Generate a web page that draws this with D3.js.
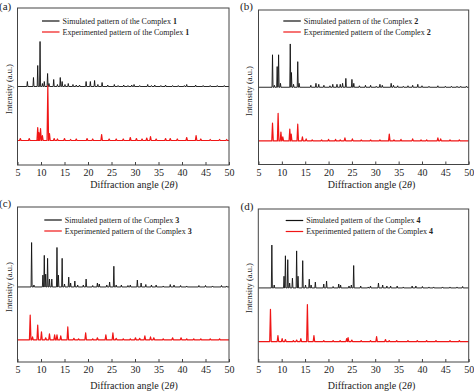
<!DOCTYPE html>
<html><head><meta charset="utf-8">
<script src="https://cdn.jsdelivr.net/npm/d3@7"></script>
<style>
html,body{margin:0;padding:0;background:#fff;}
svg{display:block;font-family:"Liberation Serif","Times New Roman",serif;}
</style></head><body>
<svg id="chart" width="474" height="392"></svg>
<script>
// ---- data: [2θ (deg), intensity (a.u.)] ----
const panelLabels = ["(a)", "(b)", "(c)", "(d)"];
const complexIds = ["1", "2", "3", "4"];
const xTicks = [5, 10, 15, 20, 25, 30, 35, 40, 45, 50];
const simOffset = [78.5, 78.5, 76, 76];
const expOffset = [24.5, 24, 22.5, 21];

const sim1 = [[7.1,5],[8.4,9],[9.3,21],[9.8,45],[10.3,3],[10.7,5],[11.4,13],[11.7,3],[12.7,7],[13.5,2],[14.1,9],[14.5,5],[15.1,2],[15.8,3],[16.8,2],[17.5,1.5],[18.2,1.5],[19.6,5],[20.5,5],[21.4,6],[22.1,2],[23.0,4],[24.2,1.5],[25.6,2],[26.4,1],[27.6,1.5],[28.5,1],[29.3,1.5],[29.8,2],[31,1],[32.7,2],[33.5,1],[34.2,1.5],[35.5,1],[36.5,1.5],[38,1],[39.2,1],[40.5,1],[41,2],[42.9,1.5],[44.5,1],[46,1],[47.5,1],[49,1]];
const exp1 = [[5.6,2],[7.5,2],[9.3,13],[9.55,8],[9.9,12],[10.3,5],[11.45,55],[11.8,7],[12.8,2],[13.5,1.5],[15,2],[16.3,1],[17.5,1.5],[19.8,2],[21,1.5],[22.9,6],[24.5,1.5],[26,1.5],[27.5,1.5],[29,3],[30.3,2],[31.5,1.5],[32.5,2.5],[33.3,4],[34.5,1.5],[36.5,2],[37.5,2],[39,1.5],[41,3],[43,5],[44,1.5],[46,1],[48,1],[49.5,1]];
const sim2 = [[8.0,33],[8.4,2],[9.0,21],[9.3,33],[9.7,4],[11.8,44],[12.05,15],[12.5,3],[13.4,26],[13.7,4],[16.2,2],[17.3,4],[17.9,3],[19,2],[20.3,1.5],[20.9,3],[21.8,3],[22.5,3],[23.0,4],[23.7,9],[25.0,8],[25.4,4],[26.6,1.5],[27.9,2],[29,2],[30.2,1],[31,3],[31.5,2],[33.4,4],[33.9,2],[34.8,1.5],[36,1],[37,1.5],[38,2],[39.1,3],[40,1.5],[41.5,1],[43.4,1.5],[45,1],[46.3,1],[47.5,1],[48.3,1],[49.5,1]];
const exp2 = [[8.0,18],[9.2,28],[9.8,9],[10.2,4],[11.7,12],[12.0,7],[13.4,17],[14.4,4],[15.2,2],[16.5,1],[18.5,1],[20,1.5],[21.5,1.5],[22.5,1],[23.5,3],[25.1,2],[27,1],[29,1],[31,1],[33.0,7],[34,1],[35.5,1.5],[38,2],[39.8,1],[41,1],[43.4,3],[44,2],[46,1],[48,1]];
const sim3 = [[8.0,45],[8.5,2],[10.4,12],[10.7,32],[11.0,13],[11.4,29],[11.8,8],[12.3,8],[13.4,40],[13.7,12],[14.5,29],[15.0,3],[15.9,10],[16.3,4],[17.2,6],[17.8,2],[19.0,2],[19.6,8],[21,1.5],[22,4],[22.4,3],[24,2],[24.6,5],[25.5,21],[26,2],[27.1,2],[28.5,1.5],[29,2],[30.5,7],[31.3,4],[32.3,2.5],[33.5,2],[34.5,2],[36,1],[37.5,2.5],[38.3,2],[39.7,1.5],[41,1],[43.6,1.5],[45,1.5],[46.5,1],[48.4,1.5],[49.5,1]];
const exp3 = [[7.7,25],[8.2,3],[9.3,15],[10.1,8],[11.0,2],[11.8,6],[12.9,5],[13.4,5],[14.2,4],[15.7,13],[17,1.5],[18,1],[19.5,7],[21,1],[22,2],[23.8,5],[25.3,7],[26,1.5],[27.5,1],[29,1],[30.1,2],[31,1.5],[32.1,4],[33.3,3],[34,2],[36,1],[38,2],[39.8,2],[41,1],[42.5,1],[44,1],[46,1],[48,1]];
const sim4 = [[7.9,44],[8.4,3],[10.5,12],[10.8,33],[11.3,29],[11.7,5],[12.3,10],[13.2,38],[13.5,12],[14.5,28],[15.1,3],[15.9,9],[16.3,3],[17.2,6],[19.0,4],[19.6,7],[21,1.5],[22.2,4],[22.6,3],[24.4,2],[24.9,3],[25.4,23],[26.9,2],[28.5,1],[29,2],[30.7,5],[31.6,3],[32.5,2],[33.3,2],[34.7,2],[36,1],[37.9,2],[38.7,2],[40.1,1.5],[41.5,1],[42.5,1],[44.4,1],[46,1],[47.5,1],[48.7,1.5]];
const exp4 = [[7.6,33],[9.2,6],[10.1,3],[10.8,2],[12.5,1],[13.2,1.5],[14.1,3],[15.5,38],[16.9,6],[19,1],[21,1],[22.5,1],[23.9,3],[24.2,4],[25,1.5],[27,1],[29,1],[30.3,5],[32.2,2],[33,1],[34.6,1],[37,1],[39,1],[41,1],[43,1],[46,1],[48,1]];

const simSeries = [sim1, sim2, sim3, sim4];
const expSeries = [exp1, exp2, exp3, exp4];

// ---- layout ----
const frames = [
  {x0:17.5, x1:229, top:8, bottom:165, lab:[-1,9.5], legX:42, legY:21, yl:[9,89], xl:[134,188]},
  {x0:258.5, x1:468.7, top:10, bottom:164.5, lab:[240,9.5], legX:283.3, legY:21, yl:[249.5,91], xl:[371.5,188]},
  {x0:17.5, x1:229, top:207, bottom:362, lab:[-1,206.5], legX:44.3, legY:220, yl:[9.5,287], xl:[134,388.5]},
  {x0:258.3, x1:468.7, top:209, bottom:362, lab:[240.5,209.5], legX:285.7, legY:220.5, yl:[249.5,288], xl:[371.5,388.5]}
];
const black = "#111", red = "#f01616", frameCol = "#444";

const svg = d3.select("#chart");

function spikes(peaks, offset, hw) {
  const pts = [[5, offset]];
  peaks.slice().sort((a,b)=>a[0]-b[0]).forEach(p => {
    pts.push([p[0]-hw, offset], [p[0], offset + p[1]], [p[0]+hw, offset]);
  });
  pts.push([50, offset]);
  return pts;
}

frames.forEach((f, i) => {
  const g = svg.append("g");
  const x = d3.scaleLinear().domain([5, 50]).range([f.x0, f.x1]);
  const y = d3.scaleLinear().domain([0, 157]).range([f.bottom, f.top]);
  const line = d3.line().x(d => x(d[0])).y(d => y(d[1]));

  g.append("path").attr("d", line(spikes(simSeries[i], simOffset[i], 0.11)))
    .attr("fill", "none").attr("stroke", black).attr("stroke-width", 0.9).attr("stroke-linejoin","round");
  g.append("path").attr("d", line(spikes(expSeries[i], expOffset[i], 0.16)))
    .attr("fill", "none").attr("stroke", red).attr("stroke-width", 1.2).attr("stroke-linejoin","round");

  // frame
  g.append("rect").attr("x", f.x0).attr("y", f.top)
    .attr("width", f.x1 - f.x0).attr("height", f.bottom - f.top)
    .attr("fill", "none").attr("stroke", frameCol).attr("stroke-width", 1);

  // x axis (ticks inward)
  const ax = g.append("g").attr("transform", `translate(0,${f.bottom})`)
    .call(d3.axisBottom(x).tickValues(xTicks).tickSizeInner(-3).tickSizeOuter(0).tickPadding(4).tickFormat(d3.format("d")));
  ax.select(".domain").remove();
  ax.selectAll(".tick line").attr("stroke", frameCol);
  ax.selectAll(".tick text").attr("font-family", "Liberation Serif").attr("font-size", 10).attr("fill", "#222");

  // x label
  const xl = g.append("text").attr("x", f.xl[0]).attr("y", f.xl[1])
    .attr("text-anchor", "middle").attr("font-size", 10).attr("fill", "#222");
  xl.append("tspan").text("Diffraction angle (2");
  xl.append("tspan").attr("font-style", "italic").text("θ");
  xl.append("tspan").text(")");

  // y label
  g.append("text").attr("transform", `translate(${f.yl[0]},${f.yl[1]}) rotate(-90)`)
    .attr("text-anchor", "middle").attr("dy", "0.35em").attr("font-size", 8.5).attr("fill", "#222")
    .text("Intensity (a.u.)");

  // panel label
  g.append("text").attr("x", f.lab[0]).attr("y", f.lab[1]).attr("font-size", 11).attr("fill", "#222")
    .text(panelLabels[i]);

  // legend
  const leg = [["Simulated pattern of the Complex ", black], ["Experimented pattern of the Complex ", red]];
  leg.forEach((l, k) => {
    const yy = f.legY + k * 11;
    g.append("line").attr("x1", f.legX).attr("x2", f.legX + 17.5).attr("y1", yy).attr("y2", yy)
      .attr("stroke", l[1]).attr("stroke-width", 1.2);
    const t = g.append("text").attr("x", f.legX + 20.5).attr("y", yy).attr("dy", "0.33em")
      .attr("font-size", 8).attr("fill", "#222");
    t.append("tspan").text(l[0]);
    t.append("tspan").attr("font-weight", "bold").text(complexIds[i]);
  });
});
</script>
</body></html>
